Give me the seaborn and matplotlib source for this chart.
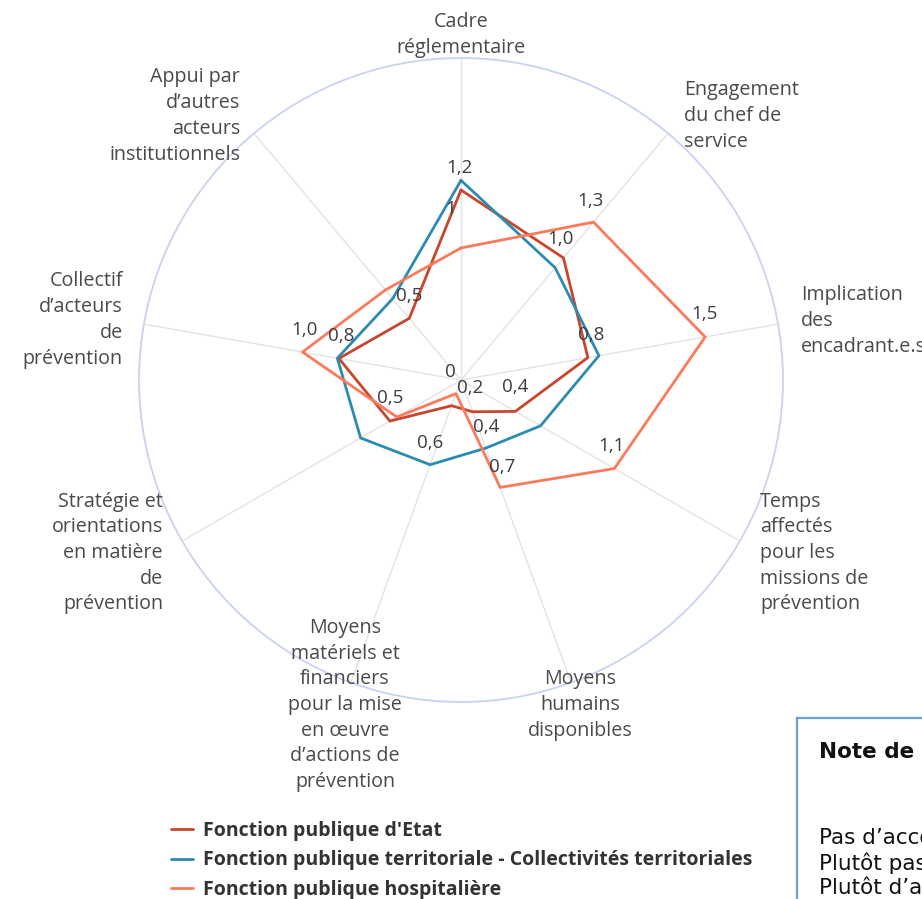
import numpy as np
import pandas as pd
import matplotlib
matplotlib.use("Agg")
import matplotlib.pyplot as plt
import seaborn as sns
from matplotlib.patches import Rectangle

# ---------------- data ----------------
categories = [
    "Cadre\nréglementaire",
    "Engagement\ndu chef de\nservice",
    "Implication\ndes\nencadrant.e.s",
    "Temps\naffectés\npour les\nmissions de\nprévention",
    "Moyens\nhumains\ndisponibles",
    "Moyens\nmatériels et\nfinanciers\npour la mise\nen œuvre\nd’actions de\nprévention",
    "Stratégie et\norientations\nen matière\nde\nprévention",
    "Collectif\nd’acteurs\nde\nprévention",
    "Appui par\nd’autres\nacteurs\ninstitutionnels",
]
series_names = [
    "Fonction publique d'Etat",
    "Fonction publique territoriale - Collectivités territoriales",
    "Fonction publique hospitalière",
]
etat = [1.18, 0.99, 0.80, 0.39, 0.21, 0.17, 0.51, 0.77, 0.50]
territoriale = [1.24, 0.91, 0.87, 0.57, 0.45, 0.56, 0.72, 0.78, 0.66]
hospitaliere = [0.82, 1.28, 1.54, 1.10, 0.71, 0.09, 0.46, 1.00, 0.73]
colors = ["#c8462d", "#2b8bb0", "#fc7a5c"]
r_max = 2.0

# data labels: (series index, category index, text)
data_labels = [
    (1, 0, "1,2"), (0, 0, "1"),
    (2, 1, "1,3"), (0, 1, "1,0"),
    (2, 2, "1,5"), (0, 2, "0,8"),
    (2, 3, "1,1"), (0, 3, "0,4"),
    (2, 4, "0,7"), (1, 4, "0,4"), (0, 4, "0,2"),
    (1, 5, "0,6"),
    (0, 6, "0,5"),
    (2, 7, "1,0"), (0, 7, "0,8"),
    (0, 8, "0,5"),
]
label_offsets = [
    (-2, 12), (-10, -19),
    (-3, 21), (-3, 19),
    (-1, 23), (3, 23),
    (-3, 23), (0, 24),
    (2, 20), (0, 21), (-2, 24),
    (0, 22),
    (0, 23),
    (2, 22), (2, 22),
    (0, 22),
]

# category label layout (pixel anchor x, y of block centre, alignment)
cat_layout = [
    (461, 35, "center"),
    (684, 116, "left"),
    (801, 321, "left"),
    (760, 553, "left"),
    (580, 705, "center"),
    (345, 705, "center"),
    (163, 553, "right"),
    (123, 320, "right"),
    (240, 116, "right"),
]

# ---------------- figure ----------------
sns.set_theme(style="white")
plt.rcParams["font.family"] = ["Open Sans", "DejaVu Sans"]

W, H = 922, 899
fig = plt.figure(figsize=(W / 100, H / 100), dpi=100)
cx, cy, R = 461, 380, 322
ax = fig.add_axes([(cx - R) / W, 1 - (cy + R) / H, 2 * R / W, 2 * R / H],
                  projection="polar")

n = len(categories)
theta = np.arange(n) * 2 * np.pi / n
rows = []
for name, vals in zip(series_names, [etat, territoriale, hospitaliere]):
    for k, i in enumerate(list(range(n)) + [0]):
        rows.append({"series": name, "theta": theta[i], "value": vals[i], "k": k})
df = pd.DataFrame(rows)

sns.lineplot(data=df, x="theta", y="value", hue="series", palette=colors,
             sort=False, estimator=None, lw=2.0, ax=ax)

ax.set_theta_offset(np.pi / 2)
ax.set_theta_direction(-1)
ax.set_ylim(0, r_max)
ax.set_xticks(theta)
ax.set_xticklabels([])
ax.set_yticks([])
ax.set_xlabel("")
ax.set_ylabel("")
ax.xaxis.grid(True, color="#e3e3e3", lw=1.0)
ax.spines["polar"].set_color("#c9d3ec")
ax.spines["polar"].set_linewidth(1.3)

all_vals = [etat, territoriale, hospitaliere]
for (s, c, txt), (dx, dy) in zip(data_labels, label_offsets):
    ax.annotate(txt, (theta[c], all_vals[s][c]), xytext=(dx, dy),
                textcoords="offset pixels", ha="center", va="center",
                fontsize=13.5, color="#3d3d3d")
ax.annotate("0", (0, 0), xytext=(-11, 8), textcoords="offset pixels",
            ha="center", va="center", fontsize=13.5, color="#3d3d3d")

for txt, (px, py, al) in zip(categories, cat_layout):
    fig.text(px / W, 1 - py / H, txt, ha=al, va="center", multialignment=al,
             fontsize=14.2, color="#4a4a4a", linespacing=1.38)

# legend
handles, labels = ax.get_legend_handles_labels()
if ax.get_legend() is not None:
    ax.get_legend().remove()
leg = fig.legend(handles, labels, loc="upper left",
                 bbox_to_anchor=(163 / W, 1 - 813 / H), frameon=False,
                 prop={"weight": "bold", "size": 14}, handlelength=1.15,
                 handletextpad=0.5, labelspacing=0.5, borderaxespad=0)
for t in leg.get_texts():
    t.set_color("#333333")

# reading note box (cropped at the right edge)
fig.patches.append(Rectangle((797 / W, 1 - 960 / H), 300 / W, 242 / H,
                             transform=fig.transFigure, fill=False,
                             edgecolor="#6a9fd8", lw=1.6))
fig.text(819 / W, 1 - 752 / H, "Note de lecture :", ha="left", va="center",
         fontsize=15.5, weight="bold", color="#111111", family=["DejaVu Sans"])
for txt, py in zip(["Pas d’accord = 0", "Plutôt pas d’accord = 1", "Plutôt d’accord = 2"],
                   [838, 863, 888]):
    fig.text(819 / W, 1 - py / H, txt, ha="left", va="center", fontsize=15.5,
             color="#111111", family=["DejaVu Sans"])

fig.savefig("out.png", dpi=100)
